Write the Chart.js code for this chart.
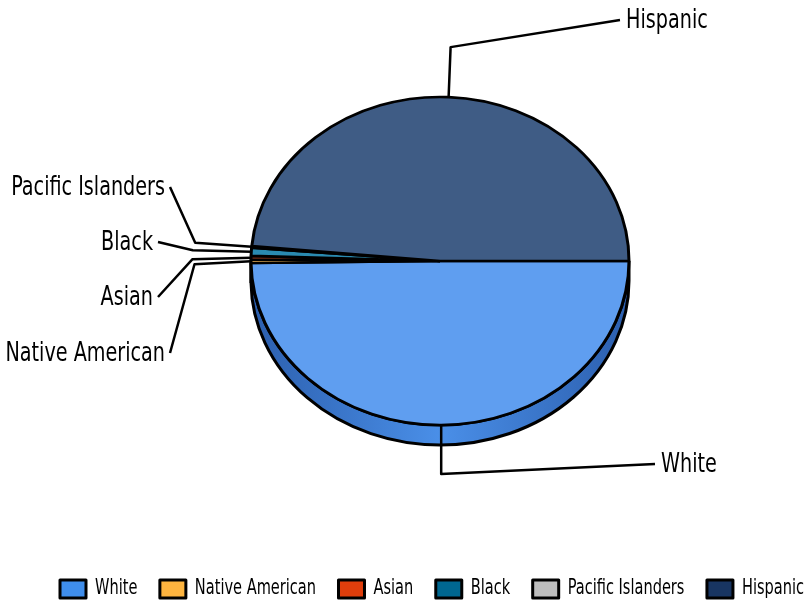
<!DOCTYPE html>
<html lang="en">
<head>
  <meta charset="UTF-8" />
  <title>Population by group</title>
  <script src="https://cdn.jsdelivr.net/npm/chart.js"></script>
  <style>
    body { margin: 0; background: #fff; }
    #wrap { width: 809px; height: 601px; position: relative; }
  </style>
</head>
<body>
  <div id="wrap"><canvas id="pie"></canvas></div>

  <script>
    // data
    const groups = ['White', 'Native American', 'Asian', 'Black', 'Pacific Islanders', 'Hispanic'];
    const shares = [49.8, 0.35, 0.35, 0.8, 0.15, 48.55];
    const legendColors = ['#3f8eec', '#fdb43f', '#e03e0c', '#006790', '#bebebe', '#183562'];
    const faceColors = ['#5f9ef0', '#fcc060', '#a8401e', '#2a8ab0', '#c8c8c8', '#3f5c85'];
    const sideColors = ['#3a78d2', '#e09a2c', '#b8320a', '#005a80', '#a8a8a8', '#14305a'];

    const FONT = "'DejaVu Sans Condensed', 'DejaVu Sans', sans-serif";
    const NARROW = 0.79;  // squeeze text sideways
    const TILT = 0.868;   // vertical squash of the pie
    const DEPTH = 20;     // thickness of the pie edge

    // where each label sits (layout only)
    const labelSpots = {
      'Hispanic':          { elbow: [2, -50], end: [620, 20], align: 'left' },
      'White':             { elbow: [0, 49], end: [655, 464], align: 'left' },
      'Pacific Islanders': { elbow: [-56.5, -4], end: [170, 187], align: 'right' },
      'Black':             { elbow: [-58.5, -1.5], end: [158, 242], align: 'right' },
      'Asian':             { elbow: [-58.5, 1.5], end: [158, 297], align: 'right' },
      'Native American':   { elbow: [-56.5, 3], end: [170, 353], align: 'right' }
    };

    function ellipsePoint(arc, ang) {
      return [arc.x + arc.outerRadius * Math.cos(ang), arc.y + arc.outerRadius * TILT * Math.sin(ang)];
    }

    function narrowText(ctx, text, x, y, align) {
      const w = ctx.measureText(text).width * NARROW;
      const left = align === 'right' ? x - w : x;
      ctx.save();
      ctx.translate(left, y);
      ctx.scale(NARROW, 1);
      ctx.textAlign = 'left';
      ctx.fillText(text, 0, 0);
      ctx.restore();
      return w;
    }

    const pie3d = {
      id: 'pie3d',
      beforeDatasetsDraw(chart) {
        const ctx = chart.ctx;
        const arcs = chart.getDatasetMeta(0).data;
        const cx = arcs[0].x, cy = arcs[0].y, r = arcs[0].outerRadius;
        // front edge of the pie
        arcs.forEach((arc, i) => {
          const s = Math.max(arc.startAngle, 0);
          const e = Math.min(arc.endAngle, Math.PI);
          if (e <= s) return;
          ctx.save();
          ctx.beginPath();
          ctx.ellipse(cx, cy + DEPTH, r, r * TILT, 0, s, e);
          ctx.ellipse(cx, cy, r, r * TILT, 0, e, s, true);
          ctx.closePath();
          if (i === 0) {
            const g = ctx.createLinearGradient(cx - r, 0, cx + r, 0);
            g.addColorStop(0, '#2c5fae');
            g.addColorStop(0.5, '#4a8fe8');
            g.addColorStop(1, '#2c5fae');
            ctx.fillStyle = g;
          } else {
            ctx.fillStyle = sideColors[i];
          }
          ctx.fill();
          ctx.lineWidth = 3;
          ctx.strokeStyle = '#000';
          ctx.stroke();
          ctx.restore();
        });
        ctx.save();
        ctx.translate(cx, cy);
        ctx.scale(1, TILT);
        ctx.translate(-cx, -cy);
      },
      afterDatasetsDraw(chart) {
        chart.ctx.restore();
      },
      afterDraw(chart) {
        const ctx = chart.ctx;
        const arcs = chart.getDatasetMeta(0).data;
        ctx.save();
        ctx.lineWidth = 2.5;
        ctx.lineJoin = 'round';
        ctx.strokeStyle = '#000';
        ctx.fillStyle = '#000';
        ctx.font = '27px ' + FONT;
        ctx.textBaseline = 'middle';
        arcs.forEach((arc, i) => {
          const spot = labelSpots[groups[i]];
          const mid = (arc.startAngle + arc.endAngle) / 2;
          const p0 = ellipsePoint(arc, mid);
          const p1 = [p0[0] + spot.elbow[0], p0[1] + spot.elbow[1]];
          ctx.beginPath();
          ctx.moveTo(p0[0], p0[1]);
          ctx.lineTo(p1[0], p1[1]);
          ctx.lineTo(spot.end[0], spot.end[1]);
          ctx.stroke();
          const tx = spot.align === 'left' ? spot.end[0] + 6 : spot.end[0] - 5;
          narrowText(ctx, groups[i], tx, spot.end[1] + 1, spot.align);
        });

        // legend
        ctx.font = '20.5px ' + FONT;
        let x = 60;
        const y = 589;
        groups.forEach((name, i) => {
          ctx.fillStyle = legendColors[i];
          ctx.fillRect(x, y - 9, 26, 18);
          ctx.lineWidth = 3;
          ctx.strokeRect(x, y - 9, 26, 18);
          ctx.fillStyle = '#000';
          const w = narrowText(ctx, name, x + 35, y, 'left');
          x += 35 + w + 22.5;
        });
        ctx.restore();
      }
    };

    new Chart(document.getElementById('pie'), {
      type: 'pie',
      data: {
        labels: groups,
        datasets: [{
          data: shares,
          backgroundColor: faceColors,
          borderColor: '#000',
          borderWidth: 3
        }]
      },
      options: {
        responsive: true,
        maintainAspectRatio: false,
        animation: false,
        rotation: 90,
        radius: 189,
        layout: { padding: { left: 251, right: 180, top: 72, bottom: 151 } },
        plugins: {
          legend: { display: false },
          tooltip: { enabled: false }
        }
      },
      plugins: [pie3d]
    });
  </script>
</body>
</html>
